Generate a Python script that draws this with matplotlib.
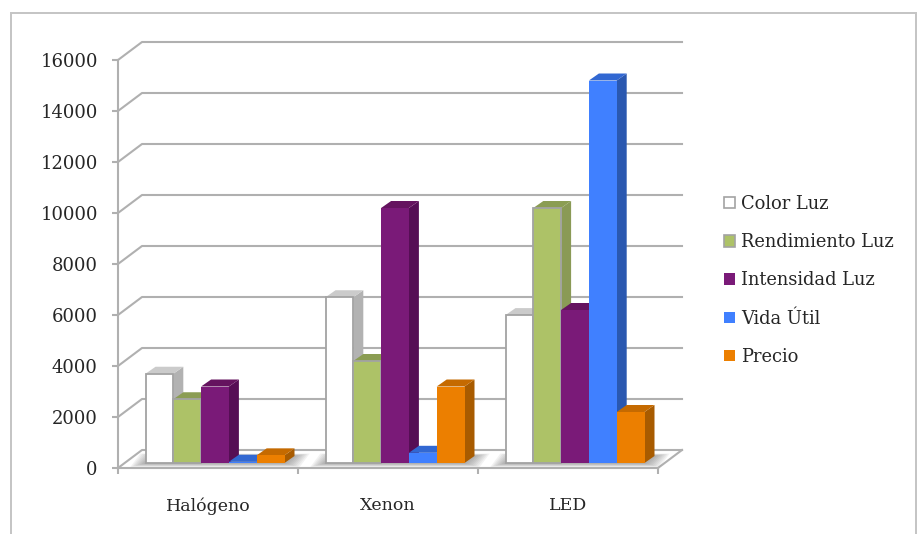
import numpy as np
import matplotlib
matplotlib.use("Agg")
import matplotlib.pyplot as plt
from matplotlib.patches import Patch, Polygon, Rectangle

categories = ["Halógeno", "Xenon", "LED"]
series_names = ["Color Luz", "Rendimiento Luz", "Intensidad Luz", "Vida Útil", "Precio"]

color_luz = [3500, 6500, 5800]
rendimiento_luz = [2500, 4000, 10000]
intensidad_luz = [3000, 10000, 6000]
vida_util = [50, 400, 15000]
precio = [300, 3000, 2000]

y_ticks = np.arange(0, 16001, 2000)

# front, top, side colours per series
faces = [
    ("#ffffff", "#cbcbcb", "#b2b2b2"),
    ("#adc267", "#8b9d53", "#8a9a56"),
    ("#7a1a78", "#65135f", "#560e55"),
    ("#4080ff", "#3268d2", "#2a58b0"),
    ("#ec7f00", "#c56a00", "#a85b00"),
]
outlined = [True, True, False, False, False]

GRAY = "#b0b0b0"
TEXT = "#262626"
FONT = "DejaVu Serif"

W, H = 922, 534
fig = plt.figure(figsize=(W / 100, H / 100), dpi=100)
ax = fig.add_axes([118 / W, (H - 468) / H, 540 / W, 408 / H])
ax.set_xlim(0, len(categories))
ax.set_ylim(0, 16000)

# size of one pixel in data units, the fake depth is set in pixels
px_x = 3 / 540
px_y = 16000 / 408
wall_dx, wall_dy = 24 * px_x, 18 * px_y
bar_dx, bar_dy = 10 * px_x, 7 * px_y
base_dx, base_dy = 7 * px_x, 5 * px_y
bar_w = 27.8 * px_x


def poly(points, **kw):
    ax.add_patch(Polygon(points, closed=True, clip_on=False, **kw))


def line(xs, ys, z=1):
    ax.plot(xs, ys, color=GRAY, lw=1.5, clip_on=False, zorder=z, solid_capstyle="projecting")


# wall gridlines and floor
for v in y_ticks:
    line([0, wall_dx, len(categories) + wall_dx], [v, v + wall_dy, v + wall_dy])
line([len(categories), len(categories) + wall_dx], [0, wall_dy])


def draw_bar(x0, value, colors, edge):
    x1 = x0 + bar_w
    y0 = base_dy
    y1 = base_dy + value
    ec = "#a3a3a3" if edge else "none"
    lw = 1.3 if edge else 0
    z = 3
    poly([(x1, y0), (x1 + bar_dx, y0 + bar_dy), (x1 + bar_dx, y1 + bar_dy), (x1, y1)],
         fc=colors[2], ec="none", zorder=z)
    poly([(x0, y1), (x1, y1), (x1 + bar_dx, y1 + bar_dy), (x0 + bar_dx, y1 + bar_dy)],
         fc=colors[1], ec="none", zorder=z)
    poly([(x0, y0), (x1, y0), (x1, y1), (x0, y1)], fc=colors[0], ec=ec, lw=lw, zorder=z)


values = [color_luz, rendimiento_luz, intensidad_luz, vida_util, precio]
n_series = len(values)
for i in range(len(categories)):
    left = i + 0.5 - n_series * bar_w / 2 + base_dx
    right = left + n_series * bar_w

    # soft shadow on the floor below each cluster
    for k in range(1, 9):
        grow = k * 1.9 * px_x
        poly([(left - grow, base_dy - 0.5 * k * px_y),
              (right + grow, base_dy - 0.5 * k * px_y),
              (right + bar_dx + grow, base_dy + bar_dy + 0.3 * k * px_y),
              (left + bar_dx - grow, base_dy + bar_dy + 0.3 * k * px_y)],
             fc="#707070", ec="none", alpha=0.09, zorder=2)

    for j in range(n_series):
        draw_bar(left + j * bar_w, values[j][i], faces[j], outlined[j])

# axes, ticks and labels
for side in ("top", "right"):
    ax.spines[side].set_visible(False)
for side in ("left", "bottom"):
    ax.spines[side].set_color(GRAY)
    ax.spines[side].set_linewidth(1.5)
    ax.spines[side].set_zorder(1.5)

ax.set_yticks(y_ticks)
ax.set_xticks(range(len(categories) + 1))
ax.set_xticklabels([])
ax.set_xticks(np.arange(len(categories)) + 0.5, minor=True)
ax.set_xticklabels(categories, minor=True, fontsize=12.5, family=FONT, color=TEXT)
ax.tick_params(axis="x", which="minor", length=0, pad=21)
ax.tick_params(axis="both", which="major", length=4.5, width=1.5, color=GRAY)
ax.tick_params(axis="y", labelsize=13, labelcolor=TEXT, pad=10)
for lab in ax.get_yticklabels():
    lab.set_family(FONT)

handles = [Patch(fc=f[0], ec="#a3a3a3" if e else f[0], lw=1.2 if e else 0)
           for f, e in zip(faces, outlined)]
leg = fig.legend(handles, series_names, loc="upper left",
                 bbox_to_anchor=(724 / W, 1 - 195 / H), bbox_transform=fig.transFigure,
                 frameon=False, borderpad=0, borderaxespad=0,
                 prop={"family": FONT, "size": 12.9},
                 handlelength=0.61, handleheight=0.61, handletextpad=0.33,
                 labelspacing=1.13)
for t in leg.get_texts():
    t.set_color(TEXT)

# outer chart frame, runs off the bottom edge
fig.add_artist(Rectangle((10.5 / W, -0.05), (916 - 10.5) / W, 0.05 + 1 - 12.5 / H,
                         transform=fig.transFigure, fc="none", ec="#c4c4c4", lw=1.4))

fig.savefig("out.png", dpi=100)
